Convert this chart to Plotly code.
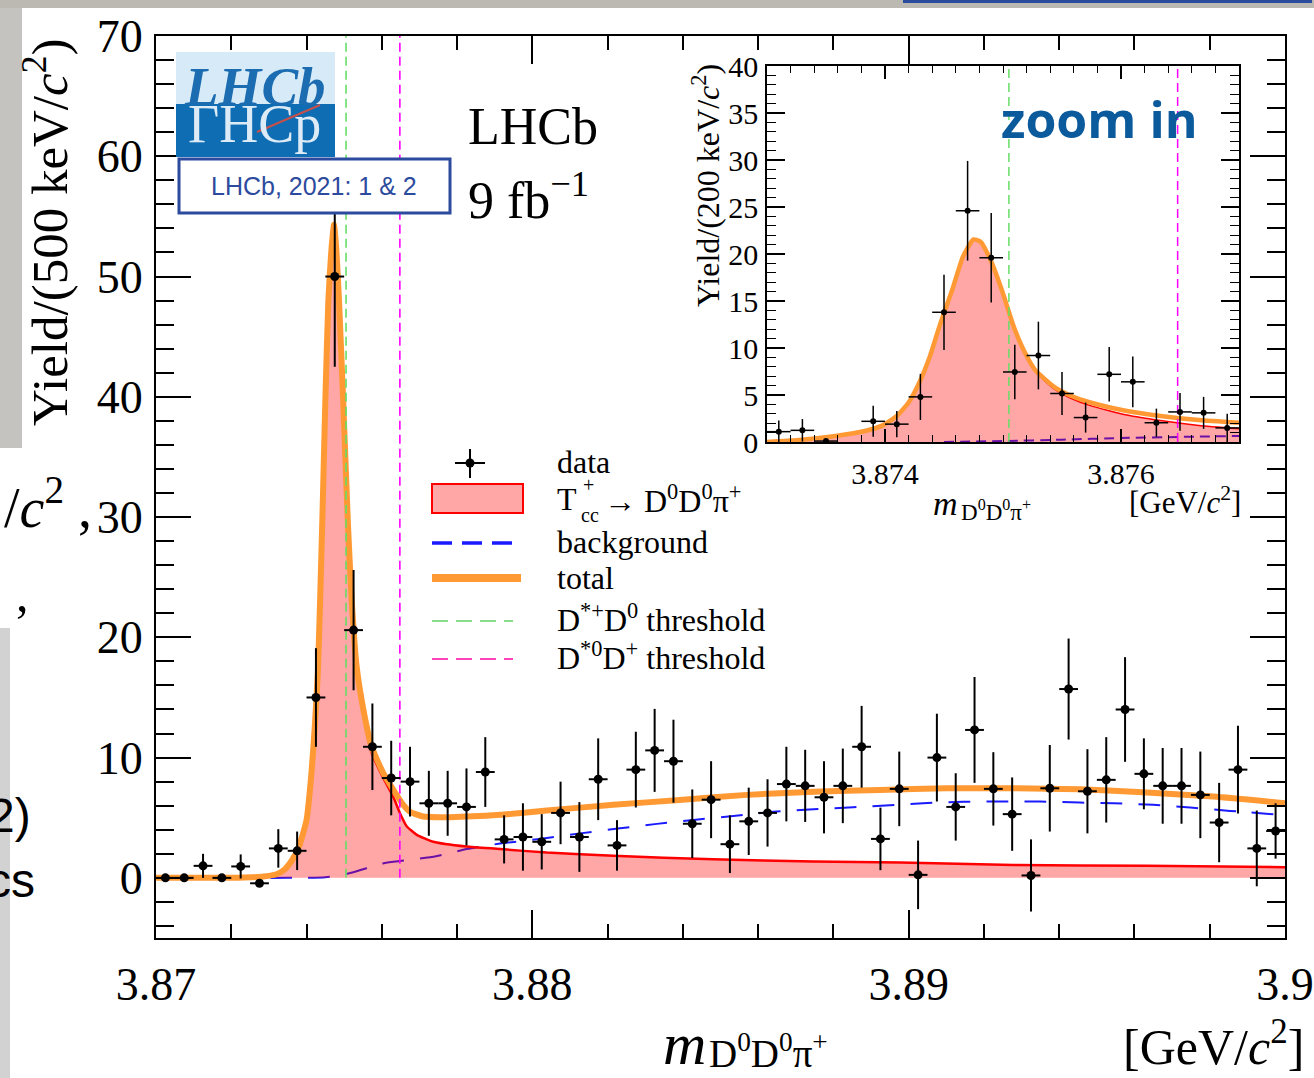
import plotly.graph_objects as go

SERIF = "Liberation Serif"
SANS = "Liberation Sans"

# ---------------- data: main histogram (500 keV bins) ----------------
main_x = [3.87025, 3.87075, 3.87125, 3.87175, 3.87225, 3.87275, 3.87325, 3.87375, 3.87425, 3.87475,
          3.87525, 3.87575, 3.87625, 3.87675, 3.87725, 3.87775, 3.87825, 3.87875, 3.87925, 3.87975,
          3.88025, 3.88075, 3.88125, 3.88175, 3.88225, 3.88275, 3.88325, 3.88375, 3.88425, 3.88475,
          3.88525, 3.88575, 3.88625, 3.88675, 3.88725, 3.88775, 3.88825, 3.88875, 3.88925, 3.88975,
          3.89025, 3.89075, 3.89125, 3.89175, 3.89225, 3.89275, 3.89325, 3.89375, 3.89425, 3.89475,
          3.89525, 3.89575, 3.89625, 3.89675, 3.89725, 3.89775, 3.89825, 3.89875, 3.89925, 3.89975]
main_y = [0.0, 0.0, 1.0, 0.0, 0.95, -0.45, 2.45, 2.25, 15.0, 50.0,
          20.6, 10.9, 8.3, 8.0, 6.2, 6.2, 5.9, 8.8, 3.2, 3.4,
          3.0, 5.4, 3.4, 8.2, 2.7, 9.0, 10.6, 9.7, 4.5, 6.5,
          2.8, 4.7, 5.4, 7.8, 7.65, 6.7, 7.65, 10.9, 3.24, 7.4,
          0.25, 10.0, 5.9, 12.3, 7.4, 5.3, 0.2, 7.45, 15.7, 7.2,
          8.15, 14.0, 8.65, 7.65, 7.65, 6.9, 4.6, 9.0, 2.45, 3.9]
main_err = [0.0, 0.0, 1.0, 0.0, 1.0, 0.3, 1.6, 1.6, 4.1, 7.5,
            5.0, 3.6, 3.1, 2.9, 2.7, 2.7, 3.2, 2.9, 2.0, 2.8,
            2.3, 2.6, 2.9, 3.4, 2.1, 3.15, 3.45, 3.45, 2.85, 3.2,
            2.4, 2.8, 2.8, 3.1, 3.0, 3.0, 3.1, 3.4, 2.6, 3.1,
            2.85, 3.65, 2.8, 4.4, 3.05, 3.05, 3.0, 3.6, 4.2, 3.5,
            3.55, 4.35, 2.95, 3.15, 3.15, 3.6, 3.3, 3.65, 3.15, 2.3]
main_half_bin = 0.00025

# fit components (main)
sig_m = [3.8700, 3.8722, 3.8728, 3.8732, 3.8734, 3.8736, 3.8738, 3.8740, 3.87413, 3.87422,
         3.87430, 3.87436, 3.87443, 3.87450, 3.87458, 3.87466, 3.87473, 3.87479, 3.87486, 3.87497,
         3.87510, 3.87520, 3.87533, 3.87551, 3.87573, 3.87604, 3.87631, 3.87648, 3.87666, 3.87692,
         3.87737, 3.87825, 3.87914, 3.88038, 3.88215, 3.88481, 3.88747, 3.88977, 3.89278, 3.89633, 3.90000]
sig_y = [0.0, 0.02, 0.1, 0.3, 0.65, 1.4, 2.6, 4.8, 8.7, 12.6,
         17.0, 23.0, 31.0, 39.7, 48.0, 52.2, 54.3, 52.2, 48.0, 39.7,
         29.0, 23.0, 17.4, 13.6, 10.4, 8.3, 6.7, 5.4, 4.3, 3.6,
         3.0, 2.6, 2.4, 2.1, 1.83, 1.55, 1.36, 1.28, 1.08, 1.0, 0.89]

tot_m = [3.8700, 3.8722, 3.8728, 3.8732, 3.8734, 3.8736, 3.8738, 3.8740, 3.87413, 3.87422,
         3.87430, 3.87436, 3.87443, 3.87450, 3.87458, 3.87466, 3.87473, 3.87479, 3.87486, 3.87497,
         3.87510, 3.87520, 3.87533, 3.87551, 3.87573, 3.87604, 3.87631, 3.87657, 3.87675, 3.87710,
         3.87782, 3.87914, 3.88038, 3.88215, 3.88392, 3.88570, 3.88747, 3.88924, 3.89101, 3.89278,
         3.89455, 3.89633, 3.89810, 3.90000]
tot_y = [0.0, 0.02, 0.1, 0.3, 0.65, 1.4, 2.6, 4.8, 8.7, 12.6,
         17.0, 23.0, 31.0, 39.7, 48.0, 52.2, 54.3, 52.3, 48.2, 40.0,
         29.4, 23.1, 17.6, 14.0, 10.9, 8.7, 7.3, 6.07, 5.5, 5.1,
         5.05, 5.24, 5.6, 6.07, 6.48, 6.9, 7.17, 7.31, 7.45, 7.45,
         7.37, 7.09, 6.76, 6.21]

bkg_m = [3.8700, 3.8735, 3.8745, 3.87516, 3.87603, 3.87648, 3.87744, 3.87826, 3.87914, 3.88020,
         3.88127, 3.88233, 3.88331, 3.88428, 3.88534, 3.88640, 3.88747, 3.88853, 3.88950, 3.89039,
         3.89145, 3.89243, 3.89349, 3.89455, 3.89544, 3.89650, 3.89748, 3.89854, 3.89969]
bkg_y = [0.0, 0.0, 0.05, 0.4, 1.2, 1.4, 1.8, 2.4, 2.85, 3.24,
         3.7, 4.12, 4.49, 4.82, 5.15, 5.49, 5.71, 5.87, 6.04, 6.21,
         6.32, 6.35, 6.35, 6.26, 6.21, 6.07, 5.85, 5.57, 5.29]

# ---------------- data: inset (200 keV bins) ----------------
inset_x = [3.8731, 3.8733, 3.8735, 3.8737, 3.8739, 3.8741, 3.8743, 3.8745, 3.8747, 3.8749,
           3.8751, 3.8753, 3.8755, 3.8757, 3.8759, 3.8761, 3.8763, 3.8765, 3.8767, 3.8769]
inset_y = [1.1, 1.24, 0.1, None, 2.2, 1.9, 4.8, 13.8, 24.6, 19.6,
           7.45, 9.2, 5.16, 2.6, 7.2, 6.4, 2.05, 3.2, 3.1, 1.5]
inset_err = [1.2, 1.2, 0.2, 0.0, 1.65, 1.4, 2.45, 4.0, 5.3, 4.75,
             2.9, 3.6, 2.3, 1.6, 2.9, 2.7, 1.5, 2.0, 1.7, 1.5]
inset_half_bin = 0.0001

in_tot_m = [3.87300, 3.87327, 3.87358, 3.87383, 3.87398, 3.87410, 3.87420, 3.87429, 3.87438, 3.87447,
            3.87457, 3.87466, 3.87475, 3.87481, 3.87490, 3.87500, 3.87509, 3.87518, 3.87527, 3.87543,
            3.87558, 3.87574, 3.87605, 3.87635, 3.87666, 3.87700]
in_tot_y = [0.0, 0.21, 0.64, 1.17, 1.77, 2.76, 4.2, 6.3, 9.1, 12.65,
            16.2, 19.7, 21.55, 21.3, 19.2, 15.8, 12.3, 9.65, 7.7, 5.9,
            4.9, 4.2, 3.3, 2.75, 2.33, 2.05]
in_sig_y = [0.0, 0.21, 0.64, 1.17, 1.77, 2.76, 4.2, 6.3, 9.1, 12.65,
            16.2, 19.7, 21.55, 21.3, 19.2, 15.75, 12.2, 9.52, 7.54, 5.68,
            4.63, 3.87, 2.87, 2.25, 1.76, 1.41]
in_bkg_m = [3.8745, 3.8750, 3.8755, 3.8760, 3.8765, 3.8770]
in_bkg_y = [0.0, 0.1, 0.25, 0.42, 0.54, 0.64]

thr_dstp_d0 = 3.87505   # D*+ D0 threshold
thr_dst0_dp = 3.87648   # D*0 D+ threshold

main_xticks = [3.87, 3.88, 3.89, 3.90]
main_xlabels = ["3.87", "3.88", "3.89", "3.9"]
main_yticks = [0, 10, 20, 30, 40, 50, 60, 70]
inset_xticks = [3.874, 3.876]
inset_xlabels = ["3.874", "3.876"]
inset_yticks = [0, 5, 10, 15, 20, 25, 30, 35, 40]

# ---------------- geometry helpers (pixel -> paper) ----------------
W, H = 1314, 1078
L, R, T, B = 156, 1285, 36, 938
def px(x): return (x - L) / (R - L)
def py(y): return (B - y) / (B - T)

ORANGE = "#ff9933"
PINK = "rgba(255,0,0,0.35)"
GREEN = "#66dd66"
MAGENTA = "#ff00ff"
BLUE = "#1a1aff"

fig = go.Figure()

def curves(xa, ya, bm, by, sm, sy, tm, ty, bw, sw, tw, dash):
    fig.add_trace(go.Scatter(x=bm, y=by, mode="lines", xaxis=xa, yaxis=ya,
                             line=dict(color=BLUE, width=bw, dash=dash, shape="spline", smoothing=0.6),
                             showlegend=False, hoverinfo="skip"))
    fig.add_trace(go.Scatter(x=sm, y=sy, mode="lines", xaxis=xa, yaxis=ya, fill="tozeroy", fillcolor=PINK,
                             line=dict(color="#ff0000", width=sw, shape="spline", smoothing=0.5),
                             showlegend=False, hoverinfo="skip"))
    fig.add_trace(go.Scatter(x=tm, y=ty, mode="lines", xaxis=xa, yaxis=ya,
                             line=dict(color=ORANGE, width=tw, shape="spline", smoothing=0.5),
                             showlegend=False, hoverinfo="skip"))

curves("x", "y", bkg_m, bkg_y, sig_m, sig_y, tot_m, tot_y, 2, 2.5, 6, "22px,16px")
curves("x2", "y2", in_bkg_m, in_bkg_y, in_tot_m, in_sig_y, in_tot_m, in_tot_y, 2, 1.5, 4.5, "10px,6px")

for xa, ya, top, w in (("x", "y", 70, 1.6), ("x2", "y2", 40, 1.5)):
    fig.add_trace(go.Scatter(x=[thr_dstp_d0, thr_dstp_d0], y=[0, top], mode="lines", xaxis=xa, yaxis=ya,
                             line=dict(color=GREEN, width=w, dash="9px,5px"), showlegend=False, hoverinfo="skip"))
    fig.add_trace(go.Scatter(x=[thr_dst0_dp, thr_dst0_dp], y=[0, top], mode="lines", xaxis=xa, yaxis=ya,
                             line=dict(color=MAGENTA, width=w, dash="9px,5px"), showlegend=False, hoverinfo="skip"))

fig.add_trace(go.Scatter(x=main_x, y=main_y, mode="markers", xaxis="x", yaxis="y",
                         marker=dict(color="black", size=9),
                         error_y=dict(type="data", array=main_err, color="black", thickness=2, width=0),
                         error_x=dict(type="constant", value=main_half_bin, color="black", thickness=2, width=0),
                         showlegend=False, hoverinfo="skip"))
fig.add_trace(go.Scatter(x=inset_x, y=inset_y, mode="markers", xaxis="x2", yaxis="y2",
                         marker=dict(color="black", size=6),
                         error_y=dict(type="data", array=inset_err, color="black", thickness=1.5, width=0),
                         error_x=dict(type="constant", value=inset_half_bin, color="black", thickness=1.5, width=0),
                         showlegend=False, hoverinfo="skip"))

axis_common = dict(showline=True, linecolor="black", mirror="ticks", ticks="inside", tickcolor="black",
                   showgrid=False, zeroline=False, tickmode="array", automargin=False)

fig.update_layout(
    width=W, height=H, autosize=False,
    margin=dict(l=L, r=W - R, t=T, b=H - B, pad=0, autoexpand=False),
    paper_bgcolor="white", plot_bgcolor="white",
    font=dict(family=SERIF, color="black"),
    showlegend=False,
    xaxis=dict(axis_common, domain=[0, 1], anchor="y", range=[3.87, 3.90], linewidth=2,
               tickvals=main_xticks, ticktext=main_xlabels, ticklen=28, tickwidth=2,
               tickfont=dict(family=SERIF, size=46), ticklabelstandoff=5,
               minor=dict(ticks="inside", ticklen=14, tickwidth=1.5, tickcolor="black",
                          tickmode="linear", tick0=3.87, dtick=0.002, showgrid=False)),
    yaxis=dict(axis_common, domain=[0, 1], anchor="x", range=[-5, 70], linewidth=2,
               tickvals=main_yticks, ticklen=35, tickwidth=2,
               tickfont=dict(family=SERIF, size=46), ticklabelstandoff=2,
               minor=dict(ticks="inside", ticklen=18, tickwidth=1.5, tickcolor="black",
                          tickmode="linear", tick0=0, dtick=2, showgrid=False)),
    xaxis2=dict(axis_common, domain=[px(767), px(1239)], anchor="y2", range=[3.873, 3.877], linewidth=1.5,
                tickvals=inset_xticks, ticktext=inset_xlabels, ticklen=13, tickwidth=1.5,
                tickfont=dict(family=SERIF, size=30), ticklabelstandoff=4,
                minor=dict(ticks="inside", ticklen=7, tickwidth=1.2, tickcolor="black",
                           tickmode="linear", tick0=3.873, dtick=0.0002, showgrid=False)),
    yaxis2=dict(axis_common, domain=[py(442), py(66)], anchor="x2", range=[0, 40], linewidth=1.5,
                tickvals=inset_yticks, ticklen=18, tickwidth=1.5,
                tickfont=dict(family=SERIF, size=30), ticklabelstandoff=1,
                minor=dict(ticks="inside", ticklen=9, tickwidth=1.2, tickcolor="black",
                           tickmode="linear", tick0=0, dtick=1, showgrid=False)),
)

shapes = []
def rect(x0, y0, x1, y1, fill, line_color=None, lw=0, layer="above"):
    shapes.append(dict(type="rect", xref="paper", yref="paper", x0=px(x0), x1=px(x1), y0=py(y1), y1=py(y0),
                       fillcolor=fill, line=dict(color=line_color or fill, width=lw), layer=layer))
def seg(x0, y0, x1, y1, color, width, dash=None):
    ln = dict(color=color, width=width)
    if dash:
        ln["dash"] = dash
    shapes.append(dict(type="line", xref="paper", yref="paper", x0=px(x0), x1=px(x1), y0=py(y0), y1=py(y1),
                       line=ln, layer="above"))

# slide-background fragments
rect(0, 0, W, 8, "#bcb8b2")
rect(903, 0, 1312, 3, "#2b4c9c")
rect(0, 8, 22, 448, "#c5c3c0")
rect(0, 628, 10, H, "#d2d2d2")

# LHCb logo
rect(176, 52, 335, 104, "#d6ebf7")
rect(176, 104, 335, 157, "#0f6db4")
seg(257, 132, 320, 105, "#c8504a", 2)

# label box
rect(179, 159, 450, 213, "white", "#2d4b9e", 3)

# legend symbols
seg(455, 463, 485, 463, "black", 2)
seg(470, 449, 470, 478, "black", 2)
shapes.append(dict(type="circle", xref="paper", yref="paper", x0=px(465.5), x1=px(474.5),
                   y0=py(467.5), y1=py(458.5), fillcolor="black", line=dict(color="black", width=0), layer="above"))
rect(432, 484, 523, 513, PINK, "#ff0000", 2)
seg(432, 543, 513, 543, BLUE, 3.5, "20px,10px")
seg(432, 578, 521, 578, ORANGE, 8)
seg(432, 621, 513, 621, "#88dd88", 2, "16px,8px")
seg(432, 659, 513, 659, "#ff44bb", 2, "16px,8px")

fig.update_layout(shapes=shapes)

anns = []
def ann(x, y, text, size, xanchor="center", yanchor="middle", family=SERIF, color="black", angle=0):
    anns.append(dict(xref="paper", yref="paper", x=px(x), y=py(y), text=text, showarrow=False,
                     xanchor=xanchor, yanchor=yanchor, textangle=angle,
                     font=dict(family=family, size=size, color=color)))

# axis titles
ann(46, 232, "Yield/(500 keV/<i>c</i><sup>2</sup>)", 51, angle=-90)
ann(706, 186, "Yield/(200 keV/<i>c</i><sup>2</sup>)", 32, angle=-90)
ann(708, 1044, "<i>m</i>", 60, xanchor="right")
ann(707, 1051, "D<sup>0</sup>D<sup>0</sup>π<sup>+</sup>", 39, xanchor="left")
ann(1306, 1043, "[GeV/<i>c</i><sup>2</sup>]", 50, xanchor="right")
ann(960, 504, "<i>m</i>", 34, xanchor="right")
ann(959, 510, "D<sup>0</sup>D<sup>0</sup>π<sup>+</sup>", 23, xanchor="left")
ann(1243, 500, "[GeV/<i>c</i><sup>2</sup>]", 31, xanchor="right")

# experiment labels
ann(466, 127, "LHCb", 52, xanchor="left")
ann(466, 196, "9 fb<sup>−1</sup>", 52, xanchor="left")
ann(182, 86, "<b><i>LHCb</i></b>", 55, xanchor="left", color="#1b6cb0")
ann(186, 124, "ΓHCp", 54, xanchor="left", color="#dcebf6")
ann(314, 186, "LHCb, 2021: 1 &amp; 2", 25, family=SANS, color="#2d4b9e")
ann(1099, 119, "<b>zoom in</b>", 50, family="Open Sans", color="#0b5a9c")

# legend texts
ann(555, 462, "data", 32, xanchor="left")
ann(555, 499, "T", 32, xanchor="left")
ann(581, 485, "+", 20, xanchor="left")
ann(579, 515, "cc", 20, xanchor="left")
ann(602, 499, "→ D<sup>0</sup>D<sup>0</sup>π<sup>+</sup>", 32, xanchor="left")
ann(555, 542, "background", 32, xanchor="left")
ann(555, 578, "total", 32, xanchor="left")
ann(555, 618, "D<sup>*+</sup>D<sup>0</sup> threshold", 32, xanchor="left")
ann(555, 656, "D<sup>*0</sup>D<sup>+</sup> threshold", 32, xanchor="left")

# slide text fragments at the left edge
ann(94, 503, "/<i>c</i><sup>2</sup> ,", 56, xanchor="right")
ann(22, 594, ",", 50)
ann(33, 815, "2)", 48, xanchor="right", family=SANS)
ann(37, 880, "cs", 48, xanchor="right", family=SANS)

fig.update_layout(annotations=anns)

fig.write_html("out.html", config={"displayModeBar": False},
               post_script="document.body.style.margin='0px';document.body.style.overflow='hidden';")
